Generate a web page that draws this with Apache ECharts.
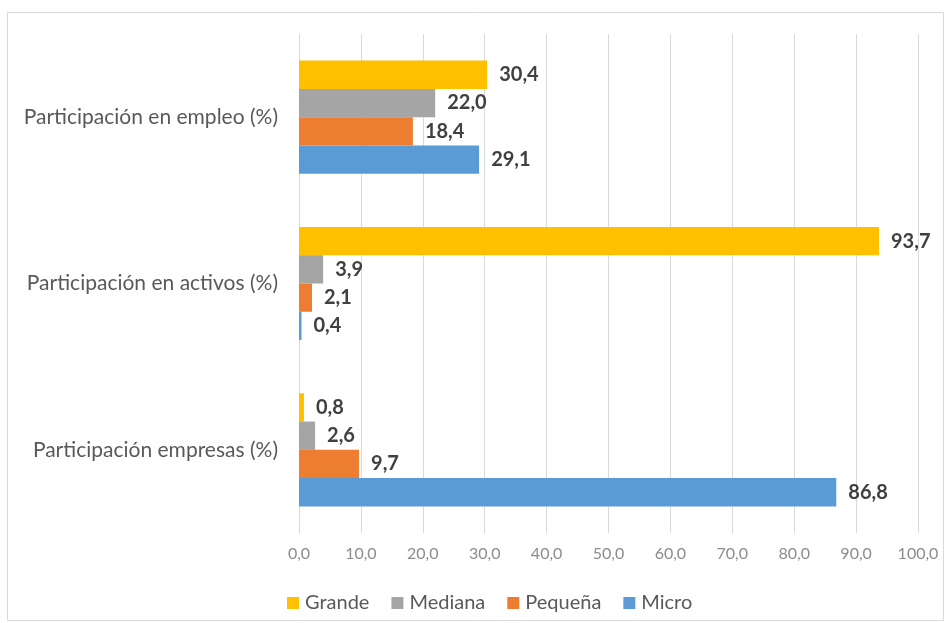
<!DOCTYPE html>
<html><head><meta charset="utf-8">
<script src="https://cdn.jsdelivr.net/npm/echarts@6/dist/echarts.min.js"></script>
<style>html,body{margin:0;padding:0;background:#fff}#c{width:945px;height:623px}</style>
</head><body><div id="c"></div>
<script>
const categories = ['Participación empresas (%)', 'Participación en activos (%)', 'Participación en empleo (%)'];
const seriesNames = ['Grande', 'Mediana', 'Pequeña', 'Micro'];
const grande = [0.8, 93.7, 30.4];
const mediana = [2.6, 3.9, 22.0];
const pequena = [9.7, 2.1, 18.4];
const micro = [86.8, 0.4, 29.1];
const colors = ['#FFC000', '#A5A5A5', '#ED7D31', '#5B9BD5'];
const values = [grande, mediana, pequena, micro];

const fmt = v => v.toFixed(1).replace('.', ',');
const font = 'Lato, "Open Sans", sans-serif';

const chart = echarts.init(document.getElementById('c'));
chart.setOption({
  animation: false,
  textStyle: { fontFamily: font },
  graphic: [{
    type: 'rect', shape: { x: 7.5, y: 12.5, width: 936, height: 608 },
    style: { fill: 'none', stroke: '#d9d9d9', lineWidth: 1 }, z: -1
  }],
  grid: { left: 299, right: 27, top: 34, bottom: 90 },
  legend: {
    data: seriesNames, left: 282, top: 588, itemWidth: 12, itemHeight: 12, itemGap: 22,
    icon: 'rect',
    textStyle: { fontSize: 20, color: '#595959', fontFamily: font, padding: [0, 0, 0, 1] }
  },
  xAxis: {
    type: 'value', min: 0, max: 100, interval: 10,
    axisLine: { show: false }, axisTick: { show: false },
    splitLine: { lineStyle: { color: '#d9d9d9', width: 1 } },
    axisLabel: { formatter: v => fmt(v), color: '#8c8c8c', fontSize: 16, margin: 13, fontFamily: font }
  },
  yAxis: {
    type: 'category', data: categories,
    axisLine: { show: false }, axisTick: { show: false },
    axisLabel: { color: '#595959', fontSize: 21, margin: 21, fontFamily: font }
  },
  series: seriesNames.map((n, i) => ({
    name: n, type: 'bar', data: values[i],
    barGap: '0%', barCategoryGap: '32%',
    itemStyle: { color: colors[i] },
    label: {
      show: true, position: 'right', distance: 12,
      formatter: p => fmt(p.value),
      color: '#404040', fontWeight: 'bold', fontSize: 20, fontFamily: font
    }
  }))
});
</script></body></html>
